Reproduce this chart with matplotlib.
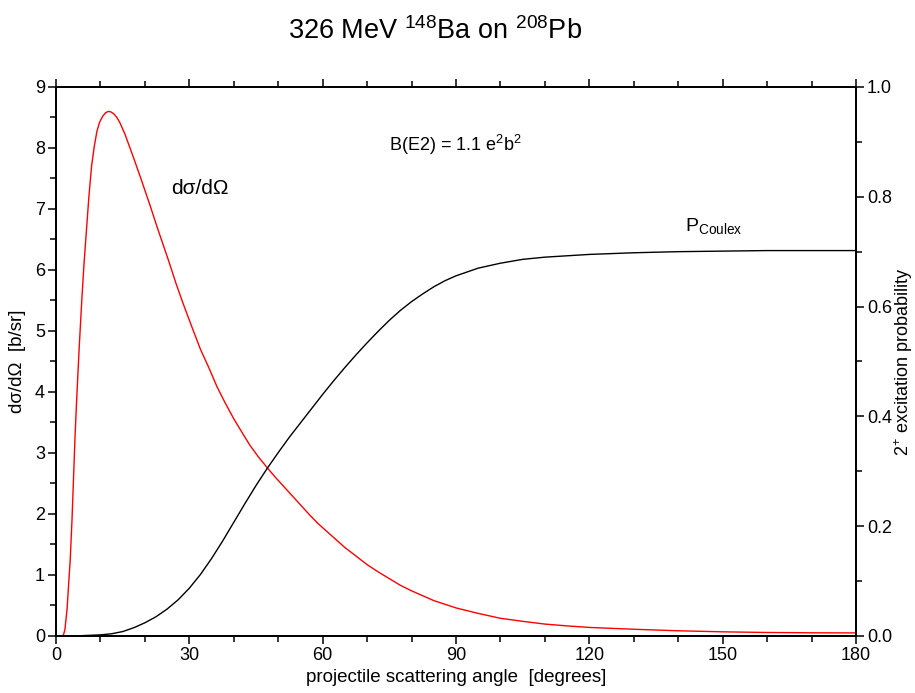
import numpy as np
import matplotlib.pyplot as plt
from matplotlib.ticker import MultipleLocator, FormatStrFormatter

plt.rcParams['font.family'] = ['Liberation Sans', 'DejaVu Sans']
plt.rcParams['mathtext.fontset'] = 'custom'
plt.rcParams['mathtext.rm'] = 'Liberation Sans'
plt.rcParams['mathtext.it'] = 'Liberation Sans'

# differential cross section dsigma/dOmega [b/sr] vs. scattering angle [deg]
angle_xs = [0, 1.6, 2.0, 2.5, 2.8, 3.2, 3.6, 4.0, 4.3, 4.7, 5.2, 5.8, 6.3,
            6.9, 7.4, 8.0, 8.6, 9.2, 9.8, 10.5, 11.2, 11.8, 12.4, 13.0, 13.7,
            14.4, 15.5, 16.5, 17.5, 19.0, 21.2, 23.0, 25.3, 27.0, 28.6, 30.5,
            32.5, 34.5, 36.2, 38.0, 40.0, 42.0, 43.6, 45.5, 47.5, 49.5, 51.5,
            53.5, 55.0, 57.0, 59.0, 61.0, 63.0, 65.0, 67.5, 70.0, 72.5, 75.0,
            77.5, 80.0, 85.0, 90.0, 95.0, 100.0, 105.0, 110.0, 115.0, 120.0,
            125.0, 130.0, 140.0, 150.0, 160.0, 170.0, 180.0]
dsigma = [0, 0, 0.1, 0.45, 0.8, 1.25, 1.9, 2.7, 3.3, 3.95, 4.7, 5.5, 6.1,
          6.7, 7.2, 7.7, 8.02, 8.27, 8.42, 8.52, 8.58, 8.6, 8.59, 8.56, 8.5,
          8.41, 8.23, 8.03, 7.83, 7.52, 7.05, 6.65, 6.16, 5.78, 5.45, 5.08,
          4.7, 4.38, 4.09, 3.83, 3.56, 3.32, 3.13, 2.94, 2.76, 2.59, 2.43,
          2.27, 2.15, 1.99, 1.84, 1.71, 1.58, 1.45, 1.31, 1.17, 1.05, 0.94,
          0.83, 0.74, 0.58, 0.46, 0.37, 0.29, 0.24, 0.195, 0.165, 0.14,
          0.125, 0.11, 0.085, 0.068, 0.057, 0.052, 0.05]

# 2+ Coulomb excitation probability vs. scattering angle [deg]
angle_p = [0, 5, 10, 12.5, 15, 17.5, 20, 22.5, 25, 27.5, 30, 32.5, 35, 37.5,
           40, 42.5, 45, 47.5, 50, 52.5, 55, 57.5, 60, 62.5, 65, 67.5, 70,
           72.5, 75, 77.5, 80, 82.5, 85, 87.5, 90, 95, 100, 105, 110, 120,
           130, 140, 150, 160, 170, 180]
p_coulex = [0, 0.0003, 0.002, 0.004, 0.008, 0.015, 0.024, 0.035, 0.049,
            0.066, 0.087, 0.112, 0.141, 0.173, 0.207, 0.241, 0.274, 0.305,
            0.334, 0.362, 0.388, 0.414, 0.44, 0.465, 0.489, 0.512, 0.534,
            0.555, 0.575, 0.593, 0.609, 0.623, 0.636, 0.647, 0.656, 0.67,
            0.679, 0.686, 0.69, 0.695, 0.698, 0.7, 0.701, 0.702, 0.702,
            0.702]

fig = plt.figure(figsize=(9.15, 6.93), dpi=100)
ax = fig.add_axes([0.0612, 0.0823, 0.8743, 0.7922])
ax2 = ax.twinx()

ax.plot(angle_xs, dsigma, color='red', lw=1.0)
ax2.plot(angle_p, p_coulex, color='black', lw=1.0)

ax.set_xlim(0, 180)
ax.set_ylim(0, 9)
ax2.set_ylim(0, 1.0)

ax.xaxis.set_major_locator(MultipleLocator(30))
ax.xaxis.set_minor_locator(MultipleLocator(10))
ax.yaxis.set_major_locator(MultipleLocator(1))
ax.yaxis.set_minor_locator(MultipleLocator(0.5))
ax2.yaxis.set_major_locator(MultipleLocator(0.2))
ax2.yaxis.set_minor_locator(MultipleLocator(0.1))
ax2.yaxis.set_major_formatter(FormatStrFormatter('%.1f'))

for a in (ax, ax2):
    for s in a.spines.values():
        s.set_linewidth(1.3)
ax.tick_params(which='both', direction='out', top=True, width=1.1,
               labelsize=13, pad=2)
ax.tick_params(which='major', length=6)
ax.tick_params(which='minor', length=4)
ax.tick_params(axis='x', which='minor', top=True)
ax2.tick_params(which='both', direction='out', width=1.1, labelsize=13, pad=2)
ax2.tick_params(which='major', length=6)
ax2.tick_params(which='minor', length=4)

ax.set_xlabel('projectile scattering angle  [degrees]', fontsize=13.5)
ax.set_ylabel('d\u03c3/d\u03a9  [b/sr]', fontsize=13.5)
ax2.set_ylabel('2$^{+}$ excitation probability', fontsize=13)
ax.xaxis.set_label_coords(0.5, -0.06)
ax.yaxis.set_label_coords(-0.0375, 0.5)
ax2.yaxis.set_label_coords(1.046, 0.5)

ax.text(26, 7.34, 'd\u03c3/d\u03a9', fontsize=15, va='center', ha='left')
ax.text(74.9, 8.05, 'B(E2) = 1.1 e$^{2}$b$^{2}$', fontsize=13,
        va='center', ha='left')
ax.text(141.5, 6.72, 'P$_{\\mathregular{Coulex}}$', fontsize=14,
        va='center', ha='left')

fig.text(0.475, 0.955, '326 MeV $^{148}$Ba on $^{208}$Pb', fontsize=19.5,
         ha='center', va='center')

fig.savefig('out.png', dpi=100)
